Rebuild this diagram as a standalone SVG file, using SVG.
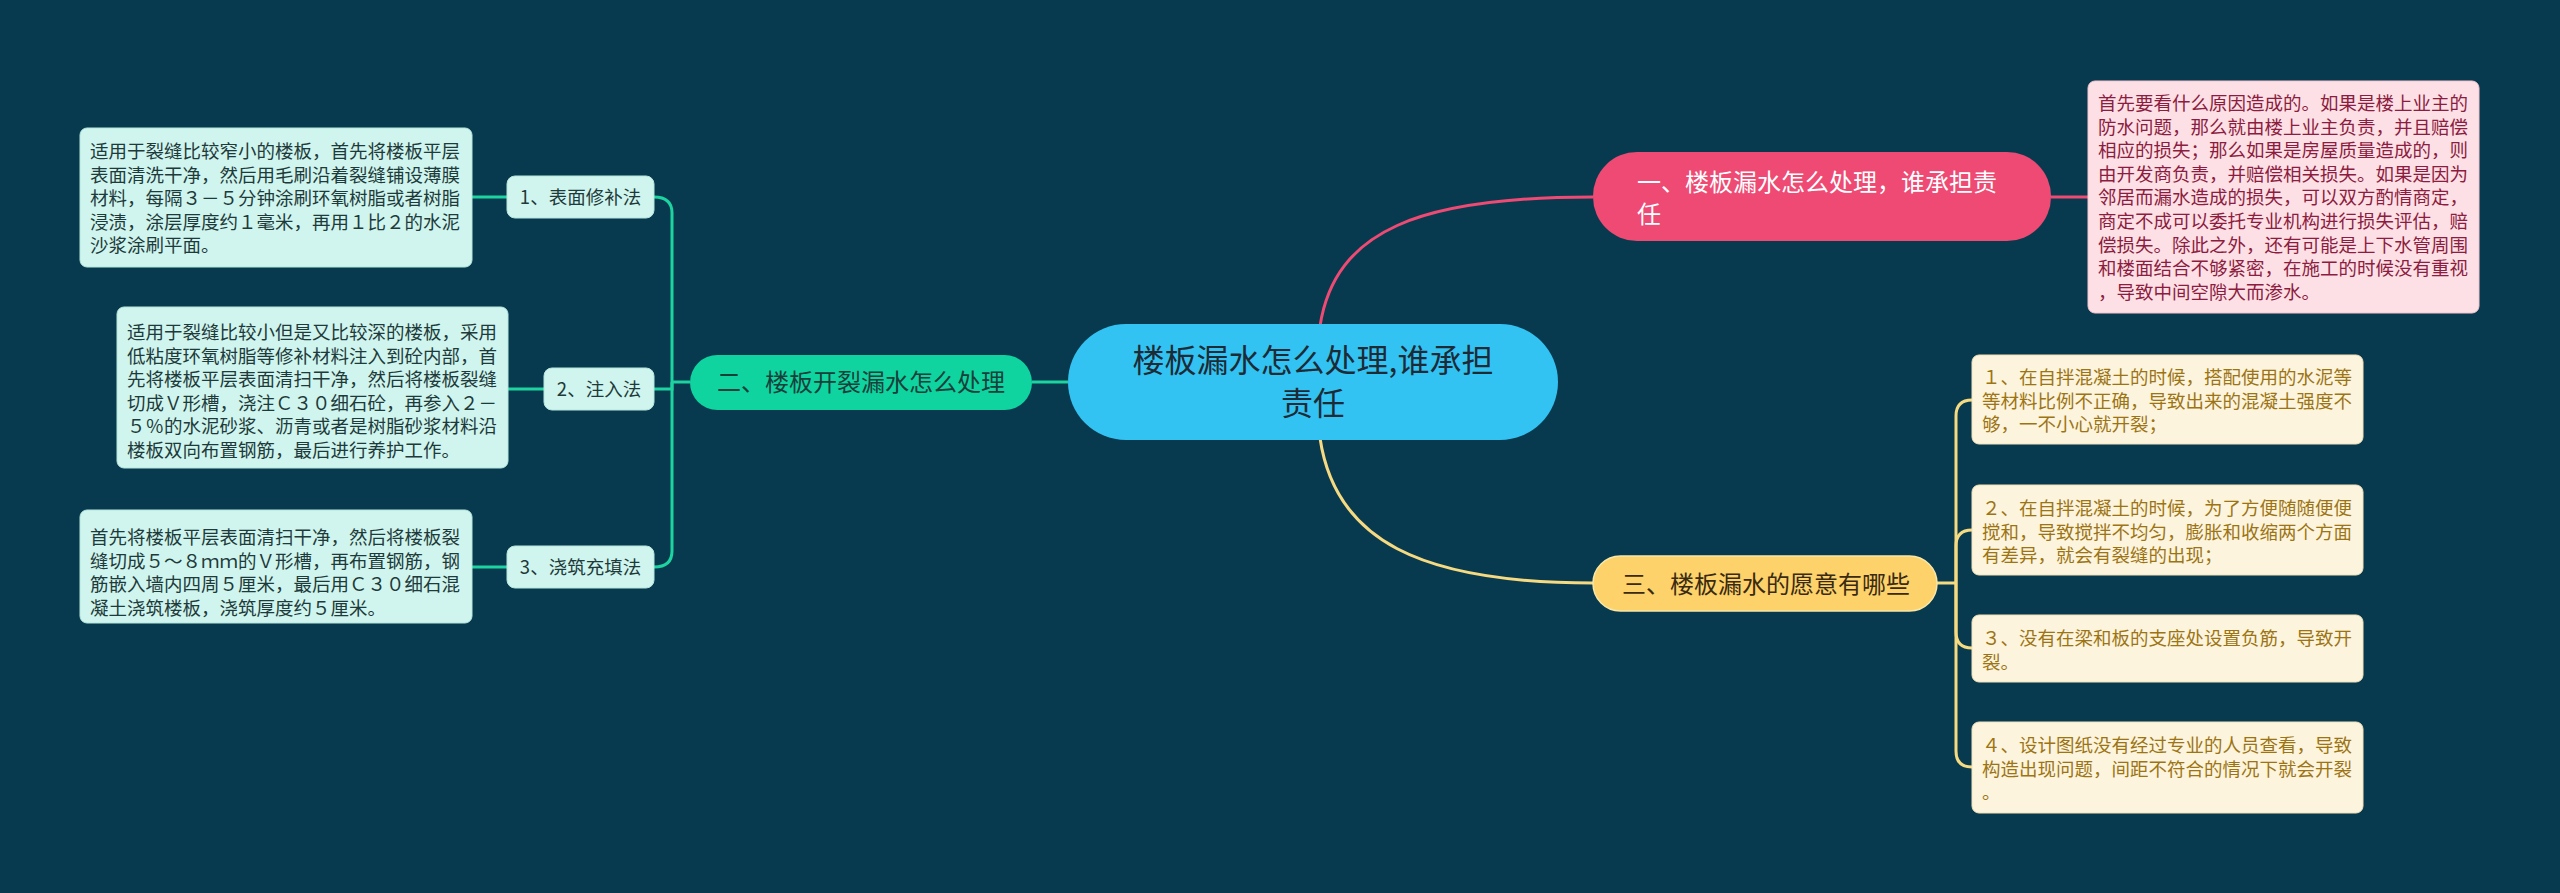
<svg xmlns="http://www.w3.org/2000/svg" width="2560" height="893" viewBox="0 0 2560 893">
<style>
text{font-family:"Noto Sans CJK SC","Noto Sans",sans-serif;}
.leafg{fill:#cff5ee;stroke:#b6e6dc;stroke-width:1}
.leafp{fill:#fde0e6;stroke:#f3c5d0;stroke-width:1}
.leafy{fill:#fdf4de;stroke:#f0e2b8;stroke-width:1}
.tg{font-size:18.5px;fill:#1e3a3a}
.tp{font-size:18.5px;fill:#8c1c40}
.ty{font-size:18.5px;fill:#9c7414}
.mid{font-size:18.5px;fill:#1e3a3a;text-anchor:middle}
.cg{fill:none;stroke:#1dd3a0;stroke-width:3}
.cp{fill:none;stroke:#ee4a73;stroke-width:3}
.cy{fill:none;stroke:#f5da82;stroke-width:3}
</style>
<rect x="0" y="0" width="2560" height="893" fill="#083a4f"/>
<g id="connectors">
<path class="cp" d="M1320 326 C1335 230 1420 197 1593 197"/>
<path class="cp" d="M2051 197 H2088"/>
<path class="cg" d="M1068 382 H1032"/>
<path class="cg" d="M690 382 H672"/>
<path class="cg" d="M672 382 V213 Q672 197 654 197"/>
<path class="cg" d="M672 382 V389 H654"/>
<path class="cg" d="M672 382 V551 Q672 567 654 567"/>
<path class="cg" d="M507 197 H472"/>
<path class="cg" d="M544 389 H508"/>
<path class="cg" d="M507 567 H472"/>
<path class="cy" d="M1320 438 C1335 540 1420 583 1593 583"/>
<path class="cy" d="M1937 583 H1956"/>
<path class="cy" d="M1956 583 V416 Q1956 400 1972 400"/>
<path class="cy" d="M1956 583 V546 Q1956 530 1972 530"/>
<path class="cy" d="M1956 583 V632 Q1956 648 1972 648"/>
<path class="cy" d="M1956 583 V751 Q1956 767 1972 767"/>
</g>
<g id="center">
<rect x="1068" y="324" width="490" height="116" rx="58" fill="#33c3f2"/>
<text x="1313" y="372" font-size="32" fill="#1d2b36" text-anchor="middle">楼板漏水怎么处理,谁承担</text>
<text x="1313" y="415" font-size="32" fill="#1d2b36" text-anchor="middle">责任</text>
</g>
<g id="branch1">
<rect x="1593" y="152" width="458" height="89" rx="44" fill="#ee4a73"/>
<text x="1637" y="191" font-size="24" fill="#ffffff">一、楼板漏水怎么处理，谁承担责</text>
<text x="1637" y="223" font-size="24" fill="#ffffff">任</text>
</g>
<g id="leaf-p1">
<rect class="leafp" x="2088" y="81" width="391" height="232" rx="7"/>
<text class="tp" x="2098" y="110">首先要看什么原因造成的。如果是楼上业主的</text>
<text class="tp" x="2098" y="133.6">防水问题，那么就由楼上业主负责，并且赔偿</text>
<text class="tp" x="2098" y="157.2">相应的损失；那么如果是房屋质量造成的，则</text>
<text class="tp" x="2098" y="180.8">由开发商负责，并赔偿相关损失。如果是因为</text>
<text class="tp" x="2098" y="204.4">邻居而漏水造成的损失，可以双方酌情商定，</text>
<text class="tp" x="2098" y="228">商定不成可以委托专业机构进行损失评估，赔</text>
<text class="tp" x="2098" y="251.6">偿损失。除此之外，还有可能是上下水管周围</text>
<text class="tp" x="2098" y="275.2">和楼面结合不够紧密，在施工的时候没有重视</text>
<text class="tp" x="2098" y="298.8">，导致中间空隙大而渗水。</text>
</g>
<g id="branch2">
<rect x="690" y="355" width="342" height="55" rx="27.5" fill="#0fd4a0"/>
<text x="861" y="391" font-size="24" fill="#17403a" text-anchor="middle">二、楼板开裂漏水怎么处理</text>
</g>
<g id="mid1">
<rect class="leafg" x="507" y="176" width="147" height="42" rx="8"/>
<text class="mid" x="580.5" y="204">1、表面修补法</text>
</g>
<g id="mid2">
<rect class="leafg" x="544" y="368" width="110" height="42" rx="8"/>
<text class="mid" x="599" y="396">2、注入法</text>
</g>
<g id="mid3">
<rect class="leafg" x="507" y="546" width="147" height="42" rx="8"/>
<text class="mid" x="580.5" y="574">3、浇筑充填法</text>
</g>
<g id="leaf-g1">
<rect class="leafg" x="80" y="128" width="392" height="139" rx="7"/>
<text class="tg" x="90" y="158">适用于裂缝比较窄小的楼板，首先将楼板平层</text>
<text class="tg" x="90" y="181.6">表面清洗干净，然后用毛刷沿着裂缝铺设薄膜</text>
<text class="tg" x="90" y="205.2">材料，每隔３－５分钟涂刷环氧树脂或者树脂</text>
<text class="tg" x="90" y="228.8">浸渍，涂层厚度约１毫米，再用１比２的水泥</text>
<text class="tg" x="90" y="252.4">沙浆涂刷平面。</text>
</g>
<g id="leaf-g2">
<rect class="leafg" x="117" y="307" width="391" height="161" rx="7"/>
<text class="tg" x="127" y="339">适用于裂缝比较小但是又比较深的楼板，采用</text>
<text class="tg" x="127" y="362.6">低粘度环氧树脂等修补材料注入到砼内部，首</text>
<text class="tg" x="127" y="386.2">先将楼板平层表面清扫干净，然后将楼板裂缝</text>
<text class="tg" x="127" y="409.8">切成Ｖ形槽，浇注Ｃ３０细石砼，再参入２－</text>
<text class="tg" x="127" y="433.4">５％的水泥砂浆、沥青或者是树脂砂浆材料沿</text>
<text class="tg" x="127" y="457">楼板双向布置钢筋，最后进行养护工作。</text>
</g>
<g id="leaf-g3">
<rect class="leafg" x="80" y="510" width="392" height="113" rx="7"/>
<text class="tg" x="90" y="544">首先将楼板平层表面清扫干净，然后将楼板裂</text>
<text class="tg" x="90" y="567.6">缝切成５～８ｍｍ的Ｖ形槽，再布置钢筋，钢</text>
<text class="tg" x="90" y="591.2">筋嵌入墙内四周５厘米，最后用Ｃ３０细石混</text>
<text class="tg" x="90" y="614.8">凝土浇筑楼板，浇筑厚度约５厘米。</text>
</g>
<g id="branch3">
<rect x="1593" y="556" width="344" height="55" rx="27.5" fill="#fdd26b" stroke="#f8e7a6" stroke-width="1.5"/>
<text x="1622" y="593" font-size="24" fill="#3a2a10">三、楼板漏水的愿意有哪些</text>
</g>
<g id="leaf-y1">
<rect class="leafy" x="1972" y="355" width="391" height="89" rx="7"/>
<text class="ty" x="1982" y="384">１、在自拌混凝土的时候，搭配使用的水泥等</text>
<text class="ty" x="1982" y="407.6">等材料比例不正确，导致出来的混凝土强度不</text>
<text class="ty" x="1982" y="431.2">够，一不小心就开裂；</text>
</g>
<g id="leaf-y2">
<rect class="leafy" x="1972" y="485" width="391" height="90" rx="7"/>
<text class="ty" x="1982" y="515">２、在自拌混凝土的时候，为了方便随随便便</text>
<text class="ty" x="1982" y="538.6">搅和，导致搅拌不均匀，膨胀和收缩两个方面</text>
<text class="ty" x="1982" y="562.2">有差异，就会有裂缝的出现；</text>
</g>
<g id="leaf-y3">
<rect class="leafy" x="1972" y="615" width="391" height="67" rx="7"/>
<text class="ty" x="1982" y="645">３、没有在梁和板的支座处设置负筋，导致开</text>
<text class="ty" x="1982" y="668.6">裂。</text>
</g>
<g id="leaf-y4">
<rect class="leafy" x="1972" y="722" width="391" height="91" rx="7"/>
<text class="ty" x="1982" y="752">４、设计图纸没有经过专业的人员查看，导致</text>
<text class="ty" x="1982" y="775.6">构造出现问题，间距不符合的情况下就会开裂</text>
<text class="ty" x="1982" y="799.2">。</text>
</g>
</svg>
